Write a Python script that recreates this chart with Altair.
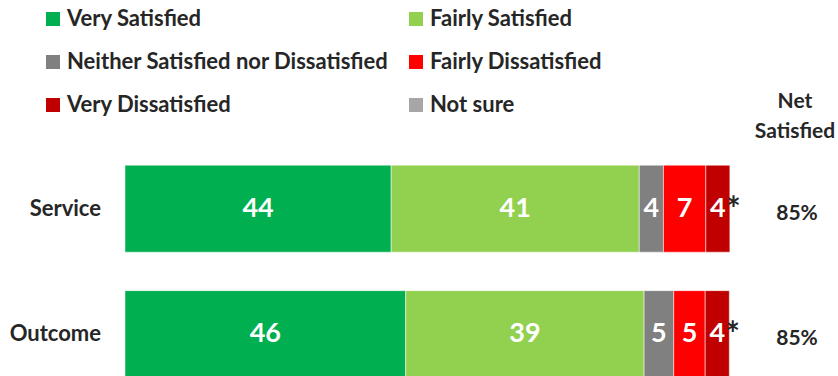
import altair as alt
import pandas as pd

categories = ["Service", "Outcome"]
responses = ["Very Satisfied", "Fairly Satisfied", "Neither Satisfied nor Dissatisfied",
             "Fairly Dissatisfied", "Very Dissatisfied", "Not sure"]
colors = ["#00B050", "#92D050", "#808080", "#FF0000", "#C00000", "#A6A6A6"]
service_values = [44, 41, 4, 7, 4, 0.2]
outcome_values = [46.4, 39.4, 4.9, 5.2, 4.0, 0.2]
net_satisfied = [85, 85]
net_header = ["Net", "Satisfied"]

FONT = "Lato"
TXT = "#262626"

rows = []
for ci, (cat, vals) in enumerate(zip(categories, [service_values, outcome_values])):
    for ri, (resp, v) in enumerate(zip(responses, vals)):
        rows.append({"category": cat, "idx": ci, "response": resp, "order": ri, "value": v})
df = pd.DataFrame(rows)
cat_df = pd.DataFrame({"category": categories, "idx": list(range(len(categories))),
                       "net": [f"{n}%" for n in net_satisfied]})

xscale = alt.Scale(domain=[0, 100], nice=False, zero=True)
yscale = alt.Scale(domain=[-0.5076, 1.2939], nice=False, zero=False, reverse=True)

base = alt.Chart(df).transform_stack(
    stack="value", groupby=["category"], as_=["x0", "x1"], sort=[alt.SortField("order")]
)

bars = base.mark_bar(size=87, clip=True, orient="horizontal", stroke="white", strokeWidth=0.5).encode(
    x=alt.X("x0:Q", scale=xscale, axis=None),
    x2="x1:Q",
    y=alt.Y("idx:Q", scale=yscale, axis=None),
    color=alt.Color(
        "response:N",
        scale=alt.Scale(domain=responses, range=colors),
        legend=alt.Legend(
            title=None, orient="none", legendX=-83, legendY=-132, columns=2,
            direction="horizontal",
            symbolType="square", symbolSize=196, symbolStrokeWidth=0,
            labelFont=FONT, labelFontSize=22, labelFontWeight="bold", labelColor=TXT,
            labelOffset=3, rowPadding=21, columnPadding=16, labelLimit=600,
        ),
    ),
    order=alt.Order("order:Q"),
)

labels = base.transform_filter(alt.datum.response != "Not sure").transform_calculate(
    mid="(datum.x0 + datum.x1) / 2"
).mark_text(color="white", font=FONT, fontWeight="bold", fontSize=27, baseline="middle").encode(
    x=alt.X("mid:Q", scale=xscale, axis=None),
    y=alt.Y("idx:Q", scale=yscale, axis=None),
    text=alt.Text("value:Q", format=".0f"),
)

aster = base.transform_filter(alt.datum.response == "Not sure").mark_text(
    color=TXT, font=FONT, fontWeight="bold", fontSize=34, align="left", baseline="middle", dx=-5, dy=2
).encode(
    x=alt.X("x1:Q", scale=xscale, axis=None),
    y=alt.Y("idx:Q", scale=yscale, axis=None),
    text=alt.value("*"),
)

cat_labels = alt.Chart(cat_df).mark_text(
    color=TXT, font=FONT, fontWeight="bold", fontSize=22, align="right", baseline="middle"
).encode(
    x=alt.value(-24),
    y=alt.Y("idx:Q", scale=yscale, axis=None),
    text="category:N",
)

net = alt.Chart(cat_df).mark_text(
    color=TXT, font=FONT, fontWeight="bold", fontSize=21, align="center", baseline="middle", dy=5
).encode(
    x=alt.value(672),
    y=alt.Y("idx:Q", scale=yscale, axis=None),
    text="net:N",
)

header = alt.Chart(pd.DataFrame({"k": [0]})).mark_text(
    color=TXT, font=FONT, fontWeight="bold", fontSize=21, align="center", baseline="middle",
    lineHeight=30
).encode(
    x=alt.value(670),
    y=alt.value(-38),
    text=alt.value(net_header),
)

chart = alt.layer(bars, labels, aster, cat_labels, net, header).properties(
    width=605, height=236,
    padding={"left": 125, "top": 140, "right": 108, "bottom": 0},
    autosize=alt.AutoSizeParams(type="none"),
    background="white",
).configure_view(stroke=None)

chart.save("out.html", embed_options={"renderer": "svg", "actions": False})
